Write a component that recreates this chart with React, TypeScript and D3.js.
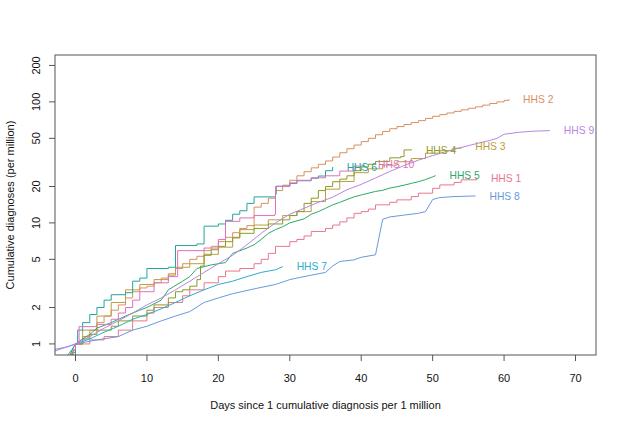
import * as d3 from "d3";

// [day, cumulative diagnoses per million]
const hhs1 = [[-1.5,0.7],[-1,0.8],[0,1.0],[2,1.08],[4,1.15],[6,1.3],[8,1.55],[10,1.8],[11,2.0],[13,2.2],[15,2.5],[16,2.8],[18,3.2],[20,3.6],[21,4.0],[23,4.2],[25,4.6],[26,5.0],[27,5.6],[28,6.4],[30,7.0],[31,7.3],[32,7.8],[33,8.5],[35,9.0],[36,9.6],[37,10.2],[38,11.0],[39,12.0],[40,12.4],[41,13.0],[42,14.1],[44,14.8],[45,15.5],[47,16.5],[48,17.6],[50,19.3],[51,20.6],[53,21.6],[54,22.7],[56.2,23.2]];
const hhs2 = [[-1.5,0.7],[-0.5,0.85],[0,1.0],[1,1.15],[2,1.3],[3,1.5],[4,1.7],[5,1.9],[6,2.1],[7,2.4],[8,2.7],[9,2.9],[10,3.0],[11,3.2],[12,3.5],[13,3.8],[14,4.2],[15,4.6],[16,5.0],[17,5.3],[18,5.9],[19,6.4],[20,7.0],[21,7.6],[22,8.3],[23,9.0],[24,9.5],[25,13.5],[26,14.5],[27,16],[28,18.5],[29,20.5],[30,22.5],[31,24.5],[32,26.5],[33,28.5],[34,30.5],[35,32.5],[36,35],[37,38],[38,41],[39,44],[40,47],[41,50],[42,53.5],[43,57],[44,60],[45,62.5],[46,65],[47,67.5],[48,70],[49,73],[50,76],[51,78.5],[52,81],[53,83.5],[54,86],[55,88.5],[56,91],[57,94],[58,97],[59,100],[60,103],[60.7,105]];
const hhs3 = [[-1.2,0.7],[-0.4,0.88],[0,1.0],[1,1.3],[3,1.7],[5,2.2],[7,2.8],[9,3.1],[11,3.4],[13,3.7],[14,4.3],[16,4.6],[18,5.5],[20,6.3],[22,7.5],[23,8.8],[25,9.6],[27,10.6],[29,11.5],[31,12.4],[33,15],[35,19],[37,22],[39,26],[41,28],[43,30],[45,32],[47,34],[49,37.7],[51,39.5],[53,41.4],[54,42.5]];
const hhs4 = [[-1.2,0.7],[-0.5,0.85],[0,1.0],[1,1.1],[2,1.2],[3,1.3],[5,1.4],[6,1.55],[8,1.7],[10,1.9],[11,2.1],[13,2.4],[14,2.7],[15,2.8],[16,3.0],[17,3.4],[17.5,4.4],[18,5.4],[19,6.0],[20,6.4],[21,7.0],[22,7.6],[23,8.2],[25,9.0],[27,9.8],[29,10.6],[30,11.5],[31,12.4],[32,14.5],[33,16.0],[34,18.5],[35,20],[36,21.9],[37,23],[38,24.5],[39,27],[40,29],[41,30.5],[42,32.2],[44,34.5],[45.5,35.3],[46,40.1],[47.1,40.1]];
const hhs5 = [[-1.3,0.7],[-0.5,0.88],[0,1.0],[1,1.1],[2,1.2],[3,1.35],[5,1.5],[7,1.7],[9,1.9],[10,2.0],[12,2.3],[13,2.8],[15,3.3],[16,3.6],[17,4.2],[19,4.5],[21,4.7],[22,5.6],[24,6.2],[25,6.6],[26,7.3],[27,8.2],[28,8.8],[29,9.3],[30,10.0],[32,10.8],[33,11.8],[34,12.4],[35,13.2],[36,14.1],[37,14.8],[38,15.6],[39,16.4],[40,17.0],[42,18.2],[43,18.6],[44,19.4],[45,19.9],[46,20.5],[47,21.2],[48,21.9],[49,22.8],[50,24.0],[50.4,24.6]];
const hhs6 = [[-0.3,0.8],[0,1.0],[0.3,1.3],[1,1.5],[2,1.75],[3,2.0],[4,2.3],[5,2.55],[7,2.65],[8,3.3],[9,3.5],[10,4.2],[13,4.3],[14,6.5],[17,6.7],[18,9.4],[20,9.8],[21,10.5],[22,11.8],[23,12.6],[24,14.5],[25,16.4],[28,17.2],[28.1,20.1],[30,21.2],[31,22.3],[33,23.4],[34,24.4],[35,27],[36,29]];
const hhs7 = [[-1.5,0.75],[-0.5,0.9],[0,1.0],[2,1.1],[4,1.25],[6,1.4],[8,1.6],[10,1.75],[12,1.95],[14,2.2],[16,2.5],[18,2.8],[20,3.1],[22,3.3],[24,3.6],[26,3.9],[28,4.1],[29,4.35]];
const hhs8 = [[-3,0.87],[0,1],[3,1.08],[6,1.15],[8,1.3],[10,1.4],[12,1.55],[14,1.7],[16,1.85],[18,2.2],[20,2.4],[22,2.6],[25,2.85],[28,3.1],[30,3.4],[32,3.6],[35,3.9],[36,4.4],[37,4.8],[39,4.95],[40,5.2],[42,5.45],[43,10.7],[44,11.2],[46,11.6],[48,12.0],[49,12.4],[50,15.6],[51,16.2],[53,16.5],[56,16.7]];
const hhs9 = [[-3,0.9],[-1,0.95],[0,1.0],[2,1.15],[4,1.35],[6,1.55],[8,1.8],[10,2.1],[12,2.4],[14,2.8],[16,3.3],[18,3.9],[20,4.6],[22,5.4],[24,6.6],[26,8.2],[28,10.0],[30,11.8],[32,13.2],[34,14.8],[36,16.3],[38,18.8],[40,20.8],[42,23.5],[44,26.6],[46,29.8],[48,33],[50,36],[52,39],[54,42],[56,45],[58,48],[59,50],[60,54],[62,56],[64,57.2],[66.4,57.9]];
const hhs10 = [[-1,0.75],[-0.3,0.9],[0,1.0],[0.5,1.39],[3,1.45],[5,1.6],[6,1.8],[7,2.0],[8,2.3],[9,2.7],[11,3.2],[13,3.6],[14.3,5.9],[18,6.2],[20,7.3],[21,10.3],[23,11],[25,11.5],[27.9,11.8],[28,20],[30,21.4],[31,22.5],[33,23.6],[35,24.5],[37,26.8],[39,29.5],[40.4,30.5]];

const regionNames = ["HHS 1", "HHS 2", "HHS 3", "HHS 4", "HHS 5", "HHS 6", "HHS 7", "HHS 8", "HHS 9", "HHS 10"];
const regionData = [hhs1, hhs2, hhs3, hhs4, hhs5, hhs6, hhs7, hhs8, hhs9, hhs10];
const xTicks = [0, 10, 20, 30, 40, 50, 60, 70];
const yTicks = [1, 2, 5, 10, 20, 50, 100, 200];

const colors = ["#e8778e", "#d8905f", "#bc9e40", "#8c9b22", "#2ea86a", "#22a69a", "#2cadca", "#6a99de", "#b886e0", "#df6fc0"];
// which series show the staircase look, the rest are drawn straight
const stepped = [true, true, true, true, false, true, false, false, false, true];

export default function App() {
  const width = 624;
  const height = 425;
  const box = { left: 55, right: 596, top: 55, bottom: 355 };
  const font = "'Liberation Sans', Arial, sans-serif";

  const x = d3.scaleLinear().domain([-2.87, 72.87]).range([box.left, box.right]);
  const y = d3.scaleLog().domain([0.81, 244]).range([box.bottom, box.top]);

  const stepLine = d3
    .line<number[]>()
    .x((d) => x(d[0]))
    .y((d) => y(d[1]))
    .curve(d3.curveStepAfter);
  const straight = d3
    .line<number[]>()
    .x((d) => x(d[0]))
    .y((d) => y(d[1]));

  return (
    <svg
      width={width}
      height={height}
      style={{ position: "absolute", left: 0, top: 0, background: "#fff" }}
      fontFamily={font}
    >
      <defs>
        <clipPath id="plot">
          <rect x={box.left} y={box.top} width={box.right - box.left} height={box.bottom - box.top} />
        </clipPath>
      </defs>

      {/* series */}
      <g clipPath="url(#plot)" fill="none" strokeWidth={1}>
        {regionData.map((d, i) => (
          <path key={i} d={(stepped[i] ? stepLine(d) : straight(d)) ?? ""} stroke={colors[i]} />
        ))}
      </g>

      {/* end labels */}
      {regionData.map((d, i) => {
        const last = d[d.length - 1];
        return (
          <text
            key={i}
            x={x(last[0]) + 14}
            y={y(last[1])}
            dy="0.35em"
            fontSize={10.3}
            fill={colors[i]}
          >
            {regionNames[i]}
          </text>
        );
      })}

      <rect
        x={box.left}
        y={box.top}
        width={box.right - box.left}
        height={box.bottom - box.top}
        fill="none"
        stroke="#555"
      />

      {/* x axis */}
      <g stroke="#555">
        {xTicks.map((t) => (
          <line key={t} x1={x(t)} x2={x(t)} y1={box.bottom} y2={box.bottom + 6} />
        ))}
      </g>
      {xTicks.map((t) => (
        <text key={t} x={x(t)} y={382} textAnchor="middle" fontSize={11} fill="#111">
          {t}
        </text>
      ))}
      <text x={(box.left + box.right) / 2} y={409} textAnchor="middle" fontSize={11} fill="#111">
        Days since 1 cumulative diagnosis per 1 million
      </text>

      {/* y axis */}
      <g stroke="#555">
        {yTicks.map((t) => (
          <line key={t} x1={box.left - 6} x2={box.left} y1={y(t)} y2={y(t)} />
        ))}
      </g>
      {yTicks.map((t) => (
        <text
          key={t}
          transform={`translate(40, ${y(t)}) rotate(-90)`}
          textAnchor="middle"
          fontSize={11}
          fill="#111"
        >
          {t}
        </text>
      ))}
      <text
        transform={`translate(14, ${(box.top + box.bottom) / 2}) rotate(-90)`}
        textAnchor="middle"
        fontSize={11}
        fill="#111"
      >
        Cumulative diagnoses (per million)
      </text>
    </svg>
  );
}
